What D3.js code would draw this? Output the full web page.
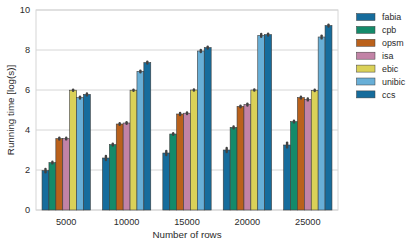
<!DOCTYPE html>
<html><head><meta charset="utf-8">
<script src="https://cdn.jsdelivr.net/npm/d3@7"></script>
<style>body{margin:0;background:#fff}svg{display:block}text{font-family:"Liberation Sans",Arial,sans-serif;fill:#2b2b2b}</style>
</head><body><svg id="c" width="415" height="246"></svg>
<script>
const categories = ["5000","10000","15000","20000","25000"];
const seriesNames = ["fabia","cpb","opsm","isa","ebic","unibic","ccs"];
const colors = ["#166c9c","#148a6a","#ba611b","#c283a6","#dad158","#68afd7","#166c9c"];
const fabia  = [1.97, 2.6, 2.85, 3.0, 3.25];
const cpb    = [2.37, 3.27, 3.8, 4.13, 4.42];
const opsm   = [3.57, 4.3, 4.8, 5.18, 5.62];
const isa    = [3.57, 4.35, 4.84, 5.27, 5.53];
const ebic   = [5.99, 5.99, 6.0, 6.0, 5.98];
const unibic = [5.62, 6.93, 7.95, 8.73, 8.65];
const ccs    = [5.78, 7.37, 8.12, 8.77, 9.22];
const errs   = [[0.08,0.1,0.1,0.1,0.12],[0.04,0.05,0.04,0.05,0.04],[0.05,0.04,0.05,0.04,0.04],[0.04,0.04,0.04,0.05,0.05],[0.03,0.03,0.03,0.03,0.03],[0.05,0.04,0.05,0.07,0.07],[0.05,0.05,0.05,0.05,0.05]];
const yTicks = [0,2,4,6,8,10];
const values = [fabia,cpb,opsm,isa,ebic,unibic,ccs];

const svg = d3.select("#c");
const L=36,R=338,T=10,B=210;
const x = d3.scaleBand().domain(categories).range([L,R]).paddingInner(0).paddingOuter(0);
const xi = d3.scaleBand().domain(seriesNames).range([0,x.bandwidth()*0.8]);
const y = d3.scaleLinear().domain([0,10]).range([B,T]);

// grid
svg.append("g").selectAll("line").data(yTicks).join("line")
  .attr("x1",L).attr("x2",R).attr("y1",d=>y(d)).attr("y2",d=>y(d))
  .attr("stroke","#d6d6d6").attr("stroke-width",1);
svg.append("rect").attr("x",L).attr("y",T).attr("width",R-L).attr("height",B-T)
  .attr("fill","none").attr("stroke","#d6d6d6").attr("stroke-width",1);

// y ticks
svg.append("g").selectAll("text").data(yTicks).join("text")
  .attr("x",L-6).attr("y",d=>y(d)+3.3).attr("text-anchor","end").attr("font-size","9.2px").text(d=>d);
// x ticks
svg.append("g").selectAll("text").data(categories).join("text")
  .attr("x",d=>x(d)+x.bandwidth()/2).attr("y",224.5).attr("text-anchor","middle").attr("font-size","9.2px").text(d=>d);

svg.append("text").attr("x",(L+R)/2).attr("y",238).attr("text-anchor","middle").attr("font-size","9.8px").text("Number of rows");
svg.append("text").attr("transform",`translate(14,${(T+B)/2}) rotate(-90)`).attr("text-anchor","middle").attr("font-size","9.8px").text("Running time [log(s)]");

// bars
seriesNames.forEach((s,si)=>{
  const g = svg.append("g");
  g.selectAll("rect").data(categories).join("rect")
    .attr("x",(c)=>x(c)+x.bandwidth()*0.1+xi(s))
    .attr("y",(c,i)=>y(values[si][i]))
    .attr("width",xi.bandwidth())
    .attr("height",(c,i)=>y(0)-y(values[si][i]))
    .attr("fill",colors[si]).attr("stroke","#3c3c3c").attr("stroke-width",0.6);
  g.selectAll("line").data(categories).join("line")
    .attr("x1",c=>x(c)+x.bandwidth()*0.1+xi(s)+xi.bandwidth()/2)
    .attr("x2",c=>x(c)+x.bandwidth()*0.1+xi(s)+xi.bandwidth()/2)
    .attr("y1",(c,i)=>y(values[si][i]-errs[si][i]))
    .attr("y2",(c,i)=>y(values[si][i]+errs[si][i]))
    .attr("stroke","#424242").attr("stroke-width",2.4).attr("stroke-linecap","round");
});

// legend
const lg = svg.append("g");
seriesNames.forEach((s,i)=>{
  const yy = 17 + i*12.9;
  lg.append("rect").attr("x",356.5).attr("y",yy-3.5).attr("width",18.5).attr("height",7)
    .attr("fill",colors[i]).attr("stroke","#3c3c3c").attr("stroke-width",0.5);
  lg.append("text").attr("x",382).attr("y",yy+3.2).attr("font-size","8.9px").text(s);
});
</script></body></html>
